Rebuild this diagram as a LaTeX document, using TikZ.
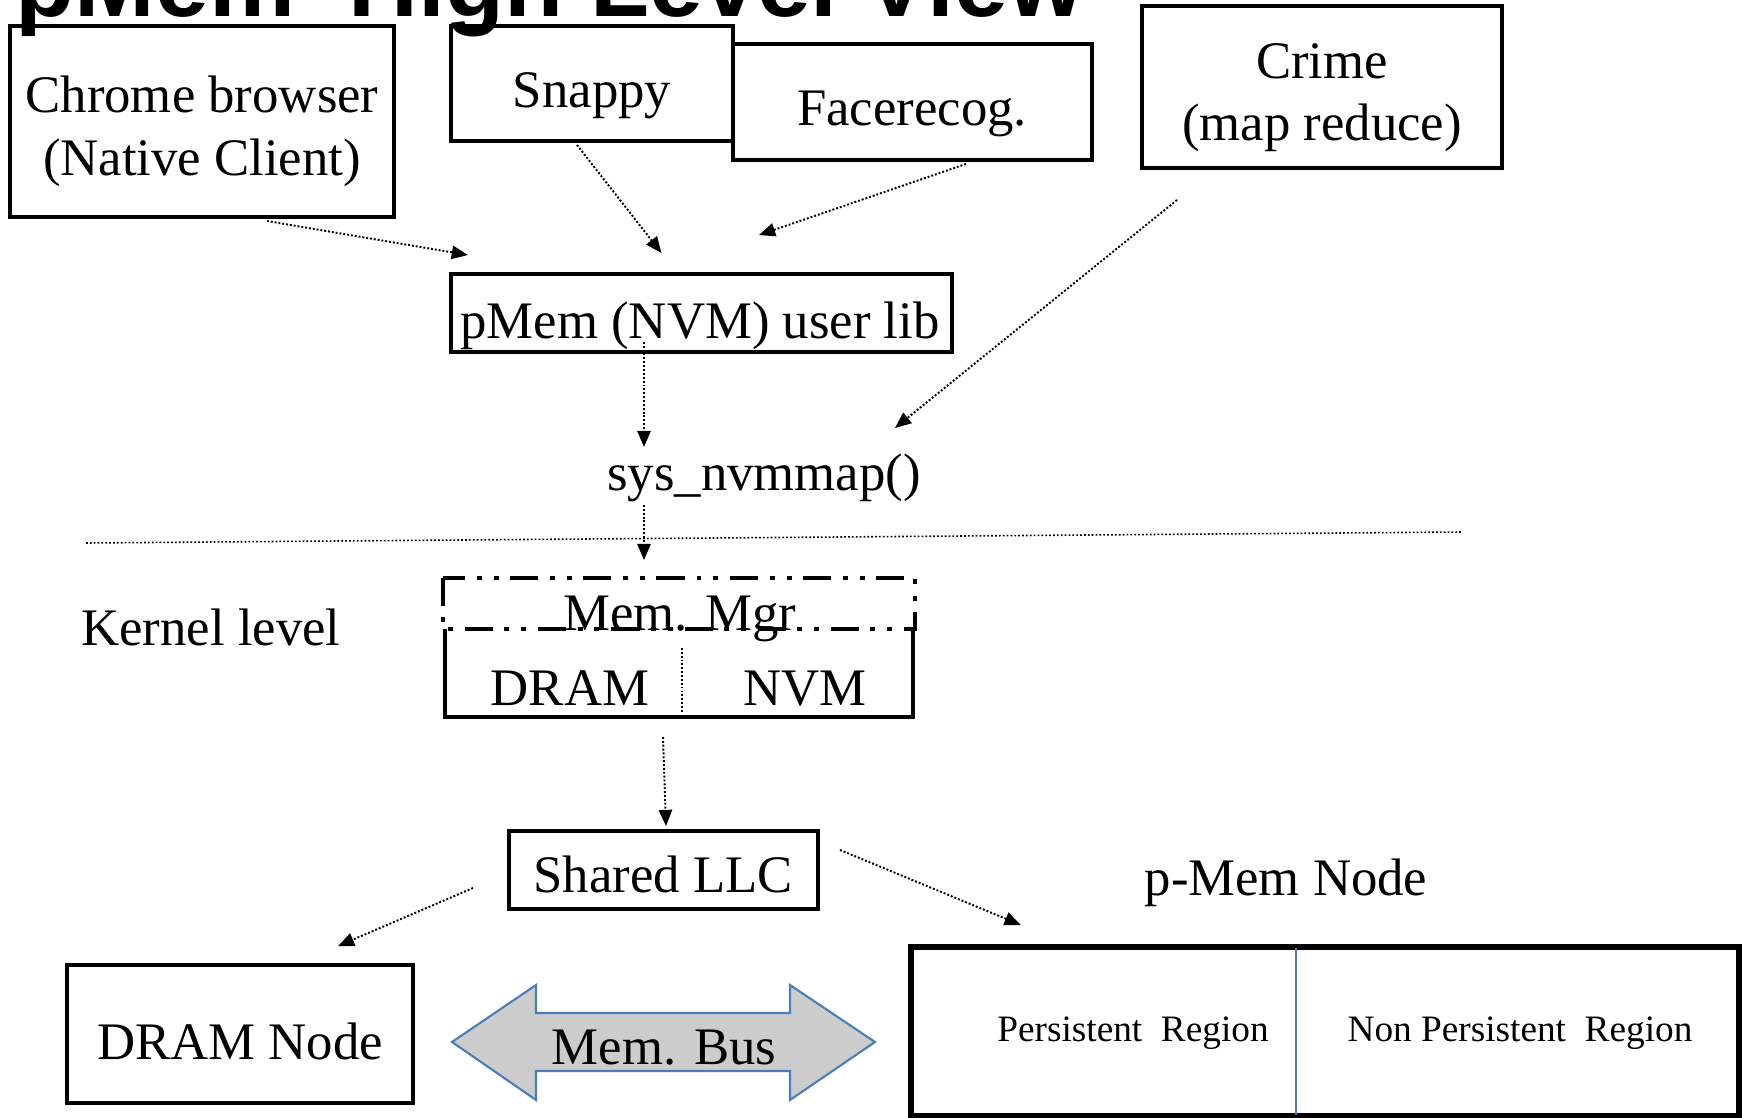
\documentclass[tikz,border=0pt]{standalone}
\usepackage{fontspec}
\setmainfont{Liberation Serif}
\newfontfamily\headfont{Liberation Sans}
\usetikzlibrary{arrows.meta}
\definecolor{busfill}{RGB}{204,204,204}
\definecolor{busline}{RGB}{74,126,187}

\begin{document}
\begin{tikzpicture}[x=0.01cm, y=-0.01cm,
  box/.style={draw, line width=1.1pt, inner sep=0pt},
  txt/.style={font=\fontsize{15}{18}\selectfont, inner sep=0pt, anchor=base},
  smalltxt/.style={font=\fontsize{10.6}{12.7}\selectfont, inner sep=0pt, anchor=base},
  flow/.style={line width=0.55pt, dash pattern=on 0.55pt off 0.55pt,
    -{Triangle[length=4.6pt,width=3.8pt]}},
  thindots/.style={line width=0.45pt, dash pattern=on 0.5pt off 0.6pt},
  mgrtop/.style={fill=white, line width=1.1pt,
    dash pattern=on 8pt off 3.2pt on 1.4pt off 3.4pt on 1.4pt off 3.4pt},
  bus/.style={fill=busfill, draw=busline, line width=0.6pt, line join=miter}
]
\useasboundingbox (0,0) rectangle (1742,1118);
\fill[white] (0,0) rectangle (1742,1118);

% application boxes
\node[box, minimum width=3.84cm, minimum height=1.91cm] (chrome) at (202,121.5) {};
\node[box, minimum width=2.82cm, minimum height=1.15cm] (snappy) at (592,83.5) {};
\node[box, minimum width=3.59cm, minimum height=1.16cm] (face) at (912.5,102) {};
\node[box, minimum width=3.60cm, minimum height=1.62cm] (crime) at (1322,87) {};

\node[txt] (chromeA) at (202,112) {Chrome browser};
\node[txt] (chromeB) at (202,175) {(Native Client)};
\node[txt] (snappyT) at (592,107) {Snappy};
\node[txt] (faceT) at (912,125) {Facerecog.};
\node[txt] (crimeA) at (1322,78) {Crime};
\node[txt] (crimeB) at (1322,140) {(map reduce)};

% user library and system call
\node[box, minimum width=5.01cm, minimum height=0.78cm] (lib) at (701.5,313) {};
\node[txt] (libT) at (700,338) {pMem (NVM) user lib};
\node[txt] (sys) at (764,490) {sys\_nvmmap()};

% user / kernel separator
\draw[thindots] (86,543) -- (1463,532);
\node[txt] (kernel) at (211,645) {Kernel level};

% memory manager
\node[box, minimum width=4.68cm, minimum height=1.37cm] (memmgr) at (679,648.5) {};
\draw[mgrtop] (memmgr.north west) rectangle ([shift={(0,51)}]memmgr.north east);
\draw[thindots] (682,648) -- (682,713);
\node[txt] (mgrT) at (680,630) {Mem. Mgr};
\node[txt] (mgrD) at (570,705) {DRAM};
\node[txt] (mgrN) at (805,705) {NVM};

% cache and memory nodes
\node[box, minimum width=3.09cm, minimum height=0.78cm] (llc) at (663.5,870) {};
\node[txt] (llcT) at (663,892) {Shared LLC};
\node[box, minimum width=3.46cm, minimum height=1.38cm] (dram) at (240,1034) {};
\node[txt] (dramT) at (240,1059) {DRAM Node};
\node[txt] (pmemT) at (1286,895) {p-Mem Node};
\node[box, line width=1.7pt, minimum width=8.28cm, minimum height=1.69cm] (pmem) at (1325,1031.5) {};
\draw[busline, line width=0.5pt] (1296,948) -- (1296,1115);
\node[smalltxt] (persist) at (1133,1041) {Persistent\ \ Region};
\node[smalltxt] (nonpersist) at (1520,1041) {Non Persistent\ \ Region};

% memory bus
\draw[bus] (452,1042) -- (536,985) -- (536,1013) -- (790,1013) -- (790,985)
  -- (875,1042) -- (790,1100) -- (790,1071) -- (536,1071) -- (536,1100) -- cycle;
\node[txt] (bus) at (664,1064) {Mem. Bus};

% flow arrows
\draw[flow] ([shift={(65,2)}]chrome.south) -- ([shift={(19,-17)}]lib.north west);
\draw[flow] ([shift={(-15,2)}]snappy.south) -- ([shift={(-40,-19)}]lib.north);
\draw[flow] ([shift={(53.5,2)}]face.south) -- ([shift={(57.5,-37)}]lib.north);
\draw[flow] ([shift={(-145,30)}]crime.south) -- ([shift={(131,-62)}]sys.base);
\draw[flow] ([shift={(-57.5,-12)}]lib.south) -- ([shift={(-120,-43)}]sys.base);
\draw[flow] ([shift={(-120,15)}]sys.base) -- ([shift={(-35,-18)}]memmgr.north);
\draw[flow] ([shift={(-16,18)}]memmgr.south) -- ([shift={(2.5,-3)}]llc.north);
\draw[flow] ([shift={(-34,18)}]llc.west) -- ([shift={(98,-17)}]dram.north);
\draw[flow] ([shift={(20,-20)}]llc.east) -- ([shift={(113,-19)}]pmem.north west);

% heading, cut by the top edge
\begin{scope}
  \clip (0,0) rectangle (1742,1118);
  \node[anchor=base west, inner sep=0pt, font=\headfont\bfseries\fontsize{27.5}{33}\selectfont]
    (title) at (15,16) {pMem\ \ High Level View};
\end{scope}
\end{tikzpicture}
\end{document}
